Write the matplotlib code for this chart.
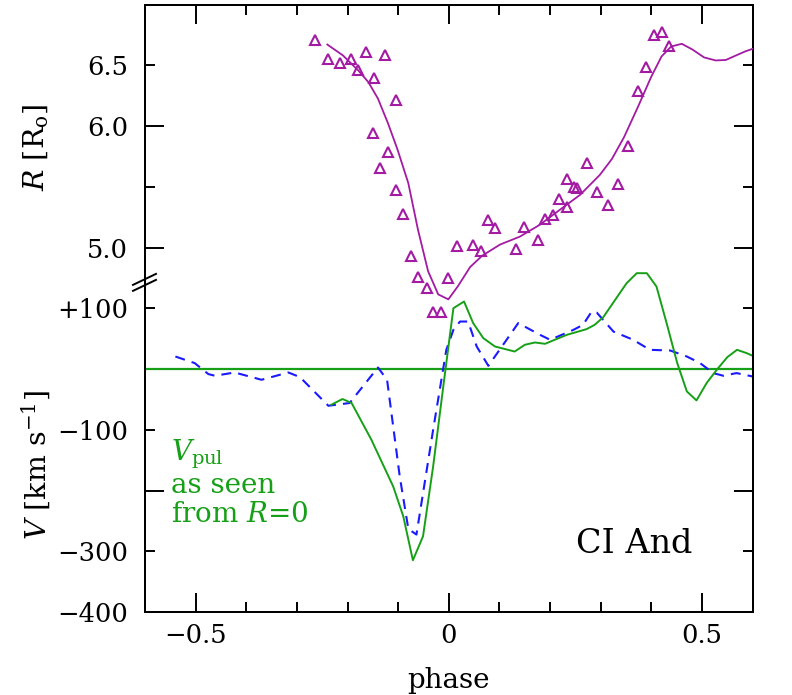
import matplotlib
matplotlib.use("Agg")
import matplotlib.pyplot as plt
from matplotlib.lines import Line2D

plt.rcParams['font.family'] = ['DejaVu Serif']
plt.rcParams['mathtext.fontset'] = 'dejavuserif'

# ---------------- data ----------------
# observed radius (triangles)
r_obs_phase = [-0.265, -0.239, -0.215, -0.194, -0.164, -0.126, -0.180, -0.148, -0.105,
               -0.149, -0.121, -0.135, -0.105, -0.091, -0.075, -0.060, -0.044, -0.031,
               -0.016, -0.001, 0.016, 0.048, 0.063, 0.077, 0.091, 0.133, 0.148, 0.176,
               0.190, 0.205, 0.218, 0.233, 0.234, 0.247, 0.254, 0.273, 0.293, 0.315,
               0.334, 0.353, 0.374, 0.389, 0.405, 0.421, 0.435]
r_obs = [6.711, 6.549, 6.516, 6.555, 6.609, 6.584, 6.459, 6.393, 6.213,
         5.945, 5.789, 5.653, 5.475, 5.273, 4.934, 4.760, 4.664, 4.473,
         4.473, 4.748, 5.011, 5.018, 4.971, 5.224, 5.161, 4.992, 5.172, 5.066,
         5.232, 5.268, 5.404, 5.334, 5.568, 5.498, 5.492, 5.694, 5.459, 5.348,
         5.527, 5.836, 6.289, 6.484, 6.754, 6.779, 6.656]

# model radius curve
r_fit_phase = [-0.240, -0.209, -0.179, -0.159, -0.140, -0.120, -0.101, -0.080, -0.061,
               -0.041, -0.021, -0.001, 0.018, 0.042, 0.066, 0.101, 0.140, 0.180, 0.219,
               0.259, 0.298, 0.322, 0.346, 0.374, 0.400, 0.420, 0.439, 0.460, 0.481,
               0.504, 0.527, 0.547, 0.567, 0.585, 0.600]
r_fit = [6.672, 6.582, 6.459, 6.363, 6.227, 6.022, 5.803, 5.530, 5.148,
         4.806, 4.615, 4.574, 4.683, 4.840, 4.934, 5.025, 5.090, 5.189, 5.311,
         5.434, 5.598, 5.730, 5.910, 6.164, 6.410, 6.574, 6.656, 6.678, 6.631,
         6.566, 6.541, 6.545, 6.582, 6.615, 6.637]

# observed radial velocity (blue dashed)
v_obs_phase = [-0.540, -0.502, -0.475, -0.462, -0.423, -0.370, -0.317, -0.294, -0.238,
               -0.196, -0.140, -0.122, -0.097, -0.080, -0.064, -0.031, -0.005, 0.009,
               0.022, 0.038, 0.055, 0.078, 0.114, 0.137, 0.180, 0.200, 0.246, 0.265,
               0.282, 0.292, 0.325, 0.364, 0.397, 0.437, 0.470, 0.496, 0.522, 0.542,
               0.568, 0.600]
v_obs = [20.7, 9.9, -8.2, -11.0, -5.6, -17.6, -5.6, -13.2, -60.4,
         -55.9, 2.6, -17.6, -176.6, -263.2, -272.5, -99.8, 31.7, 64.6,
         78.3, 78.3, 37.2, 5.4, 48.2, 75.7, 56.4, 48.2, 64.6, 72.9,
         94.7, 93.1, 61.8, 48.2, 31.7, 30.6, 20.7, 9.9, -6.6, -11.0,
         -6.6, -12.2]

# pulsation velocity as seen from R=0 (green)
v_pul_phase = [-0.232, -0.210, -0.192, -0.153, -0.110, -0.090, -0.071, -0.051, -0.031,
               -0.011, 0.009, 0.030, 0.048, 0.068, 0.091, 0.130, 0.150, 0.170, 0.190,
               0.209, 0.233, 0.272, 0.288, 0.305, 0.328, 0.351, 0.371, 0.391, 0.410,
               0.430, 0.451, 0.470, 0.489, 0.509, 0.529, 0.550, 0.569, 0.588, 0.600]
v_pul = [-58.7, -49.3, -55.9, -116.3, -193.1, -242.4, -314.8, -275.3, -160.2,
         -28.6, 100.3, 111.2, 75.7, 51.0, 37.2, 28.9, 40.0, 43.8, 41.6,
         48.2, 56.4, 65.8, 72.9, 85.5, 113.5, 141.4, 157.9, 157.9, 135.9,
         75.7, 9.9, -36.8, -51.6, -23.0, -1.2, 19.7, 31.7, 26.3, 21.9]

x_major = [-0.5, 0.0, 0.5]
x_major_labels = ['\u22120.5', '0', '0.5']
x_minor = [-0.4, -0.3, -0.2, -0.1, 0.1, 0.2, 0.3, 0.4]

v_major = [-400, -200, 0]
v_major_labels = ['\u2212400', '', '']
v_minor = [-300, -100, 100]
v_minor_labels = ['\u2212300', '\u2212100', '+100']

r_major = [5.0, 6.0]
r_major_labels = ['5.0', '6.0']
r_minor = [5.5, 6.5]
r_minor_labels = ['', '6.5']

# ---------------- colours ----------------
PURPLE = '#a31aa3'
GREEN = '#17a017'
BLUE = '#1a1aff'

fig = plt.figure(figsize=(7.92, 6.95), dpi=100)
pos = [145 / 792, 1 - 612 / 695, (752.7 - 145) / 792, (612 - 4.7) / 695]
ax = fig.add_axes(pos)
axR = ax.twinx()

ax.set_xlim(-0.6, 0.6)
ax.set_ylim(-400, 600)
axR.set_ylim(2.0, 7.0)

# velocity panel
ax.axhline(0, color=GREEN, lw=1.6, zorder=2)
ax.plot(v_obs_phase, v_obs, color=BLUE, lw=1.5, dashes=(4.8, 3.4), zorder=3)
ax.plot(v_pul_phase, v_pul, color=GREEN, lw=1.4, zorder=4)

# radius panel
axR.plot(r_fit_phase, r_fit, color=PURPLE, lw=1.3, zorder=3)
axR.plot(r_obs_phase, r_obs, linestyle='none', marker='^', ms=7.5,
         mfc='none', mec=PURPLE, mew=1.5, zorder=4)

# ticks
tick_fs = 18.5
ax.set_xticks(x_major, labels=x_major_labels)
ax.set_xticks(x_minor, minor=True)
ax.set_yticks(v_major, labels=v_major_labels)
ax.set_yticks(v_minor, labels=v_minor_labels, minor=True)
axR.set_yticks(r_major, labels=r_major_labels)
axR.set_yticks(r_minor, labels=r_minor_labels, minor=True)

for a in (ax, axR):
    a.tick_params(which='both', direction='in', width=1.4, labelsize=tick_fs,
                  top=True, bottom=True, left=True, right=True,
                  labelleft=True, labelright=False)
    a.tick_params(which='major', length=13.7)
    a.tick_params(which='minor', length=7.2)
    a.tick_params(axis='y', which='both', pad=12)
    a.tick_params(axis='x', which='both', pad=8)
    for s in a.spines.values():
        s.set_linewidth(1.4)

# axis labels
ax.set_xlabel('phase', fontsize=20)
ax.xaxis.set_label_coords(0.5, -(688 - 612) / 608)
ax.xaxis.label.set_va('baseline')

ax.set_ylabel(r'$V$ [km s$^{-1}$]', fontsize=20.5)
ax.yaxis.set_label_coords(-(145 - 36) / 607.7, (612 - 465) / 608)
ax.yaxis.label.set_va('center')

axR.set_ylabel(r'$R$ [R$_{\rm o}$]', fontsize=20.5, rotation=90)
axR.yaxis.set_label_position('left')
axR.yaxis.set_label_coords(-(145 - 36) / 607.7, (612 - 147) / 608)
axR.yaxis.label.set_va('center')

# axis-break mark on the left spine
for yb in (279, 285):
    yf = (612 - yb) / 608
    ln = Line2D([-12 / 607.7, 11 / 607.7], [yf - 5.5 / 608, yf + 5.5 / 608],
                transform=ax.transAxes, color='black', lw=1.4, clip_on=False, zorder=10)
    ax.add_line(ln)

# annotations
tx = (171 - 145) / 607.7
ax.text(tx, (612 - 460) / 608, r'$V_{\rm pul}$', color=GREEN, fontsize=20,
        transform=ax.transAxes, va='baseline', ha='left')
ax.text(tx, (612 - 493) / 608, 'as seen', color=GREEN, fontsize=20,
        transform=ax.transAxes, va='baseline', ha='left')
ax.text(tx, (612 - 522) / 608, r'from $R$=0', color=GREEN, fontsize=20,
        transform=ax.transAxes, va='baseline', ha='left')
ax.text((692.7 - 145) / 607.7, (612 - 553) / 608, 'CI And', fontsize=24,
        transform=ax.transAxes, va='baseline', ha='right')

fig.savefig('out.png', dpi=100)
